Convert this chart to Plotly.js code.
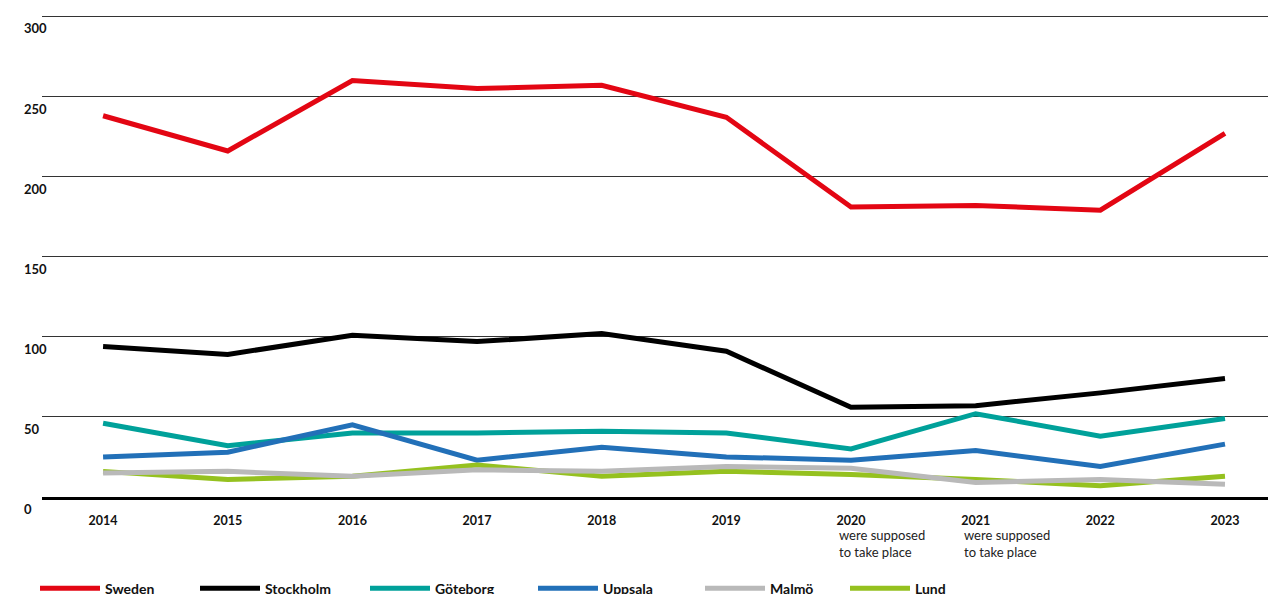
<!DOCTYPE html>
<html>
<head>
<meta charset="utf-8">
<script src="https://cdn.plot.ly/plotly-3.0.1.min.js"></script>
<style>
html,body{margin:0;padding:0;background:#fff;}
#chart{width:1268px;height:594px;}
</style>
</head>
<body>
<div id="chart"></div>
<script>
// ---- data ----
var years = [2014, 2015, 2016, 2017, 2018, 2019, 2020, 2021, 2022, 2023];
var sweden    = [238, 216, 260, 255, 257, 237, 181, 182, 179, 227];
var stockholm = [94, 89, 101, 97, 102, 91, 56, 57, 65, 74];
var goteborg  = [46, 32, 40, 40, 41, 40, 30, 52, 38, 49];
var uppsala   = [25, 28, 45, 23, 31, 25, 23, 29, 19, 33];
var malmo     = [15, 16, 13, 17, 16, 19, 18, 9, 11, 8];
var lund      = [16, 11, 13, 20, 13, 16, 14, 11, 7, 13];
var seriesNames = ['Sweden', 'Stockholm', 'Göteborg', 'Uppsala', 'Malmö', 'Lund'];
var yTicks = [0, 50, 100, 150, 200, 250, 300];
var xTickLabels = ['2014', '2015', '2016', '2017', '2018', '2019', '2020', '2021', '2022', '2023'];
var noteYears = [2020, 2021];
var noteText = 'were supposed<br>to take place';

// ---- styles ----
var colors = ['#e30613', '#000000', '#00a19a', '#2270b8', '#b9b9b9', '#95c11f'];
var values = [sweden, stockholm, goteborg, uppsala, malmo, lund];
var legendPx = [40, 200, 370, 538, 705, 850]; // left pixel of legend line samples
var drawOrder = [0, 1, 2, 3, 5, 4];

var plotLeft = 42, plotWidth = 1226;
var traces = drawOrder.map(function (i) {
  return {
    x: years, y: values[i], name: seriesNames[i], type: 'scatter', mode: 'lines',
    line: {color: colors[i], width: 5},
    legend: i === 0 ? 'legend' : 'legend' + (i + 1),
    hoverinfo: 'skip'
  };
});

var annotations = [];
yTicks.forEach(function (v) {
  annotations.push({
    x: 0, xref: 'paper', xanchor: 'left', xshift: -20,
    y: v, yref: 'y', yanchor: 'middle', yshift: -12,
    text: String(v), showarrow: false,
    font: {family: 'Lato', size: 13, color: '#111', weight: 'bold'}
  });
});
noteYears.forEach(function (yr) {
  annotations.push({
    x: yr, xref: 'x', xanchor: 'left', xshift: -14,
    y: 0, yref: 'paper', yanchor: 'top', yshift: -28,
    text: noteText, align: 'left', showarrow: false,
    font: {family: 'Lato', size: 13, color: '#222'}
  });
});

var layout = {
  width: 1268, height: 594,
  paper_bgcolor: '#fff', plot_bgcolor: '#fff',
  margin: {l: plotLeft, r: 0, t: 14, b: 97, autoexpand: false},
  showlegend: true,
  xaxis: {
    range: [2013.51, 2023.345], tickvals: years, ticktext: xTickLabels,
    showgrid: false, zeroline: false,
    showline: true, linecolor: '#000', linewidth: 3,
    ticks: '', ticklabelstandoff: 10,
    tickfont: {family: 'Lato', size: 12.5, color: '#111', weight: 'bold'}
  },
  yaxis: {
    range: [0, 301.5], tickvals: yTicks, showticklabels: false,
    showgrid: true, gridcolor: '#333', gridwidth: 1,
    zeroline: false, ticks: ''
  },
  annotations: annotations
};

seriesNames.forEach(function (n, i) {
  var key = i === 0 ? 'legend' : 'legend' + (i + 1);
  layout[key] = {
    x: (legendPx[i] - 5 - plotLeft) / plotWidth, xanchor: 'left',
    y: -0.19, yanchor: 'middle',
    orientation: 'h', itemwidth: 60,
    bgcolor: 'rgba(0,0,0,0)', borderwidth: 0,
    font: {family: 'Lato', size: 14, color: '#111', weight: 'bold'}
  };
});

Plotly.newPlot('chart', traces, layout, {staticPlot: true, displayModeBar: false});
</script>
</body>
</html>
